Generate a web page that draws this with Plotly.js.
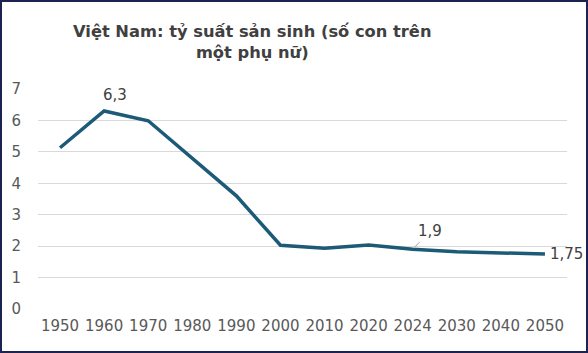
<!DOCTYPE html>
<html>
<head>
<meta charset="utf-8">
<script src="https://cdn.plot.ly/plotly-3.0.1.min.js"></script>
<style>
  html, body { margin: 0; padding: 0; background: #fff; }
  #frame { width: 588px; height: 353px; box-sizing: border-box; border: 2px solid #1c2350; position: relative; overflow: hidden; }
  #chart { position: absolute; left: -2px; top: -2px; width: 588px; height: 353px; }
</style>
</head>
<body>
<div id="frame"><div id="chart"></div></div>
<script>
const years = ["1950","1960","1970","1980","1990","2000","2010","2020","2024","2030","2040","2050"];
const fertility = [5.13, 6.3, 5.99, 4.8, 3.6, 2.03, 1.93, 2.04, 1.9, 1.82, 1.78, 1.75];
const yTicks = [0, 1, 2, 3, 4, 5, 6, 7];

const fmt = v => String(v).replace('.', ',');
const idx = y => years.indexOf(y);
const labelFont = { family: "DejaVu Sans, Verdana, sans-serif", size: 15, color: "#404040" };

const annotations = [
  { x: idx("1960"), y: fertility[idx("1960")], text: fmt(fertility[idx("1960")]), showarrow: false, yshift: 16, xshift: 11,
    xref: "x", yref: "y", font: labelFont },
  { x: idx("2024"), y: fertility[idx("2024")], text: fmt(fertility[idx("2024")]), showarrow: true, arrowhead: 0,
    arrowcolor: "#a6a6a6", arrowwidth: 1, ax: 17, ay: -18, standoff: 2,
    xref: "x", yref: "y", font: labelFont },
  { x: idx("2050"), y: fertility[idx("2050")], text: fmt(fertility[idx("2050")]), showarrow: false, xanchor: "left", xshift: 3,
    xref: "x", yref: "y", font: labelFont }
];

Plotly.newPlot("chart", [{
  x: years,
  y: fertility,
  type: "scatter",
  mode: "lines",
  line: { color: "#1d5a77", width: 3.5 },
  hoverinfo: "skip"
}], {
  width: 588, height: 353,
  margin: { l: 38, r: 21, t: 89, b: 44 },
  paper_bgcolor: "#ffffff",
  plot_bgcolor: "#ffffff",
  showlegend: false,
  title: {
    text: "<b>Việt Nam: tỷ suất sản sinh (số con trên<br>một phụ nữ)</b>",
    x: 0.405, xanchor: "center", xref: "paper",
    y: 0.895, yanchor: "top", yref: "container",
    font: { family: "DejaVu Sans, Verdana, sans-serif", size: 16.3, color: "#404040" }
  },
  xaxis: {
    type: "category",
    range: [-0.5, 11.5],
    showgrid: false, zeroline: false, showline: false, ticks: "",
    tickfont: { family: "DejaVu Sans, Verdana, sans-serif", size: 15, color: "#595959" },
    ticklabelstandoff: 6
  },
  yaxis: {
    range: [0, 7],
    tickvals: yTicks,
    showgrid: true, gridcolor: "#d9d9d9", gridwidth: 1,
    zeroline: false, showline: false, ticks: "",
    tickfont: { family: "DejaVu Sans, Verdana, sans-serif", size: 15, color: "#595959" },
    ticklabelstandoff: 16
  },
  annotations: annotations
}, { displayModeBar: false, staticPlot: true });
</script>
</body>
</html>
